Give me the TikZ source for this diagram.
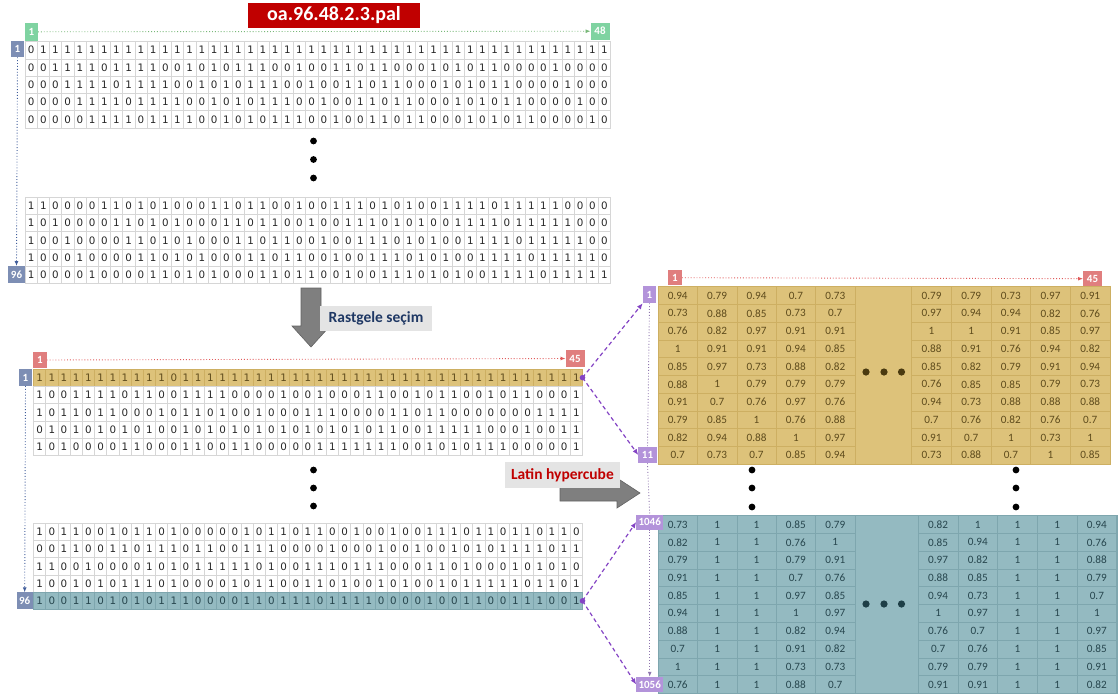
\documentclass[tikz,border=0pt]{standalone}
\usepackage{fontspec}
\setmainfont{Carlito}
\newfontfamily\digitfont{DejaVu Sans}
\usetikzlibrary{arrows.meta}

\definecolor{gridgray}{HTML}{D6D6D6}
\definecolor{goldfill}{HTML}{DDC27A}
\definecolor{goldline}{HTML}{CDAF62}
\definecolor{goldtext}{HTML}{5E4B1C}
\definecolor{golddot}{HTML}{4A3A10}
\definecolor{tealfill}{HTML}{94BAC1}
\definecolor{tealline}{HTML}{7EA6AE}
\definecolor{tealtext}{HTML}{27464E}
\definecolor{tealdot}{HTML}{1E3F47}
\definecolor{pinklab}{HTML}{E07E7E}
\definecolor{greenlab}{HTML}{7FD3A1}
\definecolor{bluelab}{HTML}{7D8EB4}
\definecolor{purplab}{HTML}{B393DA}
\definecolor{purpline}{HTML}{8444C4}
\definecolor{titlered}{HTML}{C00000}
\definecolor{arrowgray}{HTML}{7F7F7F}
\definecolor{arrowedge}{HTML}{626262}
\definecolor{navy}{HTML}{1F3864}
\definecolor{lightbox}{HTML}{E4E4E4}
\definecolor{bluedots}{HTML}{3F5C9A}
\definecolor{greendots}{HTML}{79B879}
\definecolor{reddots}{HTML}{E05A5A}

\tikzset{
  bincell/.style={draw=gridgray, line width=0.5pt, minimum width=12.2pt, minimum height=17.3pt,
    inner sep=0pt, outer sep=0pt, anchor=north west,
    font=\digitfont\fontsize{10.3}{10}\selectfont, text=black!85},
  goldrow/.style={bincell, fill=goldfill, draw=goldline, text=goldtext},
  tealrow/.style={bincell, fill=tealfill, draw=tealline, text=tealtext},
  goldcell/.style={draw=goldline, line width=0.5pt, inner sep=0pt, outer sep=0pt, anchor=north west,
    font=\fontsize{11.2}{11}\selectfont, text=goldtext},
  tealcell/.style={draw=tealline, line width=0.5pt, inner sep=0pt, outer sep=0pt, anchor=north west,
    font=\fontsize{11.2}{11}\selectfont, text=tealtext},
  lab/.style={inner sep=0pt, outer sep=0pt, font=\bfseries\fontsize{11}{11}\selectfont, text=white},
  greenbox/.style={lab, fill=greenlab},
  bluebox/.style={lab, fill=bluelab},
  pinkbox/.style={lab, fill=pinklab},
  purpbox/.style={lab, fill=purplab},
  greybox/.style={inner sep=0pt, outer sep=0pt, fill=lightbox, font=\bfseries\fontsize{15.5}{16}\selectfont},
  dotline/.style={dotted, line width=0.9pt},
  dasharrow/.style={purpline, dashed, dash pattern=on 4pt off 3pt, line width=1.2pt,
    -{Latex[length=6pt,width=5pt]}},
  blockarrow/.style={fill=arrowgray, draw=arrowedge, line width=0.6pt},
}

\newcommand{\binrow}[4]{%
  \foreach \dd [count=\ii from 0] in {#4}{%
    \node[#3] (#1-\ii) at ({#2+\ii*12.2},\rowy) {\dd};
  }%
}
\newcommand{\valtable}[7]{%
  \foreach \rr [count=\ri from 0] in {#7}{%
    \foreach \vv [count=\ci from 0] in \rr {%
      \node[#6, minimum width=#4pt, minimum height=#5pt] (#1-\ri-\ci) at ({#2+\ci*#4},{#3+\ri*#5}) {\vv};
    }%
  }%
}

\begin{document}
\begin{tikzpicture}[x=1pt,y=-1pt]
\useasboundingbox (0,0) rectangle (1120,697);

% ---------------- title ----------------
\node[fill=titlered, text=white, inner sep=0pt, minimum width=172pt, minimum height=25pt,
  font=\bfseries\fontsize{20}{20}\selectfont] (title) at (334,15.5) {oa.96.48.2.3.pal};

% ---------------- top matrix ----------------
\def\rowy{41.5}
\binrow{T1}{25}{bincell}{0,1,1,1,1,1,1,1,1,1,1,1,1,1,1,1,1,1,1,1,1,1,1,1,1,1,1,1,1,1,1,1,1,1,1,1,1,1,1,1,1,1,1,1,1,1,1,1}
\def\rowy{58.8}
\binrow{T2}{25}{bincell}{0,0,1,1,1,1,0,1,1,1,1,0,0,1,0,1,0,1,1,1,0,0,1,0,0,1,1,0,1,1,0,0,0,1,0,1,0,1,1,0,0,0,0,1,0,0,0,0}
\def\rowy{76.1}
\binrow{T3}{25}{bincell}{0,0,0,1,1,1,1,0,1,1,1,1,0,0,1,0,1,0,1,1,1,0,0,1,0,0,1,1,0,1,1,0,0,0,1,0,1,0,1,1,0,0,0,0,1,0,0,0}
\def\rowy{93.4}
\binrow{T4}{25}{bincell}{0,0,0,0,1,1,1,1,0,1,1,1,1,0,0,1,0,1,0,1,1,1,0,0,1,0,0,1,1,0,1,1,0,0,0,1,0,1,0,1,1,0,0,0,0,1,0,0}
\def\rowy{110.7}
\binrow{T5}{25}{bincell}{0,0,0,0,0,1,1,1,1,0,1,1,1,1,0,0,1,0,1,0,1,1,1,0,0,1,0,0,1,1,0,1,1,0,0,0,1,0,1,0,1,1,0,0,0,0,1,0}

\def\rowy{197}
\binrow{B1}{25}{bincell}{1,1,0,0,0,0,1,1,0,1,0,1,0,0,0,1,1,0,1,1,0,0,1,0,0,1,1,1,0,1,0,1,0,0,1,1,1,1,0,1,1,1,1,1,0,0,0,0}
\def\rowy{214.3}
\binrow{B2}{25}{bincell}{1,0,1,0,0,0,0,1,1,0,1,0,1,0,0,0,1,1,0,1,1,0,0,1,0,0,1,1,1,0,1,0,1,0,0,1,1,1,1,0,1,1,1,1,1,0,0,0}
\def\rowy{231.6}
\binrow{B3}{25}{bincell}{1,0,0,1,0,0,0,0,1,1,0,1,0,1,0,0,0,1,1,0,1,1,0,0,1,0,0,1,1,1,0,1,0,1,0,0,1,1,1,1,0,1,1,1,1,1,0,0}
\def\rowy{248.9}
\binrow{B4}{25}{bincell}{1,0,0,0,1,0,0,0,0,1,1,0,1,0,1,0,0,0,1,1,0,1,1,0,0,1,0,0,1,1,1,0,1,0,1,0,0,1,1,1,1,0,1,1,1,1,1,0}
\def\rowy{266.2}
\binrow{B5}{25}{bincell}{1,0,0,0,0,1,0,0,0,0,1,1,0,1,0,1,0,0,0,1,1,0,1,1,0,0,1,0,0,1,1,1,0,1,0,1,0,0,1,1,1,1,0,1,1,1,1,1}

% labels top matrix
\node[greenbox, minimum width=13pt, minimum height=17.5pt] (g1) at (31.5,31.8) {1};
\node[greenbox, minimum width=19pt, minimum height=17pt] (g48) at (600,31.2) {48};
\node[bluebox, minimum width=13.5pt, minimum height=16.5pt] (bt1) at (17.5,49) {1};
\node[bluebox, minimum width=17pt, minimum height=17pt] (bt96) at (16.5,274.5) {96};
\draw[dotline, greendots, -{Latex[length=5pt,width=4pt]}] (g1.east) -- (g48.west);
\draw[dotline, bluedots, -{Latex[length=5pt,width=4pt]}] (bt1.south) -- (bt96.north);

% vertical dots
\fill[black] (313.5,141) circle (3.4pt) (313.5,159.5) circle (3.4pt) (313.5,178) circle (3.4pt);

% ---------------- random selection arrow ----------------
\draw[blockarrow] (301,288) -- (321,288) -- (321,326) -- (330,326) -- (311,347) -- (292,326) -- (301,326) -- cycle;
\node[greybox, text=navy, minimum width=112pt, minimum height=25pt] (rast) at (376,318) {Rastgele seçim};

% ---------------- middle matrix ----------------
\def\rowy{369}
\binrow{M1}{33.5}{goldrow}{1,1,1,1,1,1,1,1,1,1,1,0,1,1,1,1,1,1,1,1,1,1,1,1,1,1,1,1,1,1,1,1,1,1,1,1,1,1,1,1,1,1,1,1,1}
\def\rowy{386.3}
\binrow{M2}{33.5}{bincell}{1,0,0,1,1,1,1,0,1,1,0,0,1,1,1,1,0,0,0,0,1,0,0,1,0,0,0,1,1,0,0,1,0,1,1,0,0,1,0,1,1,0,0,0,1}
\def\rowy{403.6}
\binrow{M3}{33.5}{bincell}{1,0,1,1,0,1,1,0,0,0,1,0,1,1,0,1,0,0,1,0,0,0,1,1,1,0,0,0,0,1,1,0,1,1,0,0,0,0,0,0,0,1,1,1,1}
\def\rowy{420.9}
\binrow{M4}{33.5}{bincell}{0,1,0,1,0,1,0,1,0,1,0,0,1,0,1,0,1,0,1,0,1,0,1,0,1,0,1,0,1,1,0,0,1,1,1,1,1,0,0,0,1,0,0,1,1}
\def\rowy{438.2}
\binrow{M5}{33.5}{bincell}{1,0,1,0,0,0,0,1,1,0,0,0,1,1,0,0,1,1,0,0,0,0,0,1,1,1,1,1,1,1,0,0,1,0,1,0,1,1,1,0,0,0,0,0,1}

\def\rowy{523}
\binrow{L1}{33.5}{bincell}{1,0,1,1,0,0,1,0,1,1,0,1,0,0,0,0,0,1,0,1,1,0,1,1,0,0,1,0,0,1,0,0,1,1,1,0,1,1,0,1,1,0,1,1,0}
\def\rowy{540.3}
\binrow{L2}{33.5}{bincell}{0,0,1,1,0,0,1,1,0,1,1,1,0,1,1,0,0,1,1,1,0,0,0,0,1,0,0,0,1,0,0,1,0,0,1,0,1,0,1,1,1,1,0,1,1}
\def\rowy{557.6}
\binrow{L3}{33.5}{bincell}{1,1,0,0,1,0,0,0,0,1,0,1,0,1,1,1,1,1,0,1,0,0,1,1,1,0,1,1,1,0,0,0,1,1,0,1,0,0,0,1,0,1,0,1,0}
\def\rowy{574.9}
\binrow{L4}{33.5}{bincell}{1,0,0,1,0,1,0,1,1,1,0,1,0,0,0,0,1,0,1,1,0,0,1,1,0,1,0,0,1,0,1,0,0,1,0,1,1,1,1,1,0,1,1,0,1}
\def\rowy{592.2}
\binrow{L5}{33.5}{tealrow}{1,0,0,1,1,0,1,0,1,0,1,1,1,0,0,0,0,1,1,0,1,1,1,0,1,1,1,1,0,0,0,0,1,0,0,1,1,0,0,1,1,1,0,0,1}

% labels middle matrix
\node[pinkbox, minimum width=13.5pt, minimum height=16pt] (pm1) at (40,360) {1};
\node[pinkbox, minimum width=19pt, minimum height=17pt] (pm45) at (575,358.5) {45};
\node[bluebox, minimum width=13.5pt, minimum height=17pt] (bm1) at (25.5,377.5) {1};
\node[bluebox, minimum width=16pt, minimum height=17pt] (bm96) at (24.7,600.8) {96};
\draw[dotline, reddots, -{Latex[length=5pt,width=4pt]}] (pm1.east) -- (pm45.west);
\draw[dotline, bluedots, -{Latex[length=5pt,width=4pt]}] (bm1.south) -- (bm96.north);

\fill[black] (313.5,470) circle (3.4pt) (313.5,488) circle (3.4pt) (313.5,506) circle (3.4pt);

% ---------------- Latin hypercube arrow ----------------
\draw[blockarrow] (560,485) -- (617,485) -- (617,478) -- (640,493) -- (617,508) -- (617,501) -- (560,501) -- cycle;
\node[greybox, text=titlered, minimum width=115pt, minimum height=26pt] (lhc) at (562.5,475) {Latin hypercube};

% ---------------- gold table ----------------
\fill[goldfill] (658,286.7) rectangle (1110,464);
\valtable{GL}{658}{286.7}{39.4}{17.73}{goldcell}{%
{0.94,0.79,0.94,0.7,0.73},{0.73,0.88,0.85,0.73,0.7},{0.76,0.82,0.97,0.91,0.91},{1,0.91,0.91,0.94,0.85},
{0.85,0.97,0.73,0.88,0.82},{0.88,1,0.79,0.79,0.79},{0.91,0.7,0.76,0.97,0.76},{0.79,0.85,1,0.76,0.88},
{0.82,0.94,0.88,1,0.97},{0.7,0.73,0.7,0.85,0.94}}
\valtable{GR}{911.7}{286.7}{39.66}{17.73}{goldcell}{%
{0.79,0.79,0.73,0.97,0.91},{0.97,0.94,0.94,0.82,0.76},{1,1,0.91,0.85,0.97},{0.88,0.91,0.76,0.94,0.82},
{0.85,0.82,0.79,0.91,0.94},{0.76,0.85,0.85,0.79,0.73},{0.94,0.73,0.88,0.88,0.88},{0.7,0.76,0.82,0.76,0.7},
{0.91,0.7,1,0.73,1},{0.73,0.88,0.7,1,0.85}}
\draw[goldline, line width=0.5pt] (658,286.7) rectangle (1110,464);
\fill[golddot] (866,372) circle (3.6pt) (884,372) circle (3.6pt) (901.5,372) circle (3.6pt);

% ---------------- teal table ----------------
\fill[tealfill] (658,515.7) rectangle (1117,693.3);
\valtable{TL}{658}{515.7}{39.4}{17.76}{tealcell}{%
{0.73,1,1,0.85,0.79},{0.82,1,1,0.76,1},{0.79,1,1,0.79,0.91},{0.91,1,1,0.7,0.76},
{0.85,1,1,0.97,0.85},{0.94,1,1,1,0.97},{0.88,1,1,0.82,0.94},{0.7,1,1,0.91,0.82},
{1,1,1,0.73,0.73},{0.76,1,1,0.88,0.7}}
\valtable{TR}{918.3}{515.7}{39.68}{17.76}{tealcell}{%
{0.82,1,1,1,0.94},{0.85,0.94,1,1,0.76},{0.97,0.82,1,1,0.88},{0.88,0.85,1,1,0.79},
{0.94,0.73,1,1,0.7},{1,0.97,1,1,1},{0.76,0.7,1,1,0.97},{0.7,0.76,1,1,0.85},
{0.79,0.79,1,1,0.91},{0.91,0.91,1,1,0.82}}
\draw[tealline, line width=0.5pt] (658,515.7) rectangle (1117,693.3);
\fill[tealdot] (866,604) circle (3.6pt) (884,604) circle (3.6pt) (901.5,604) circle (3.6pt);

% vertical dots between tables
\fill[black] (752,470) circle (3.4pt) (752,488) circle (3.4pt) (752,507) circle (3.4pt);
\fill[black] (1016,470) circle (3.4pt) (1016,488) circle (3.4pt) (1016,507) circle (3.4pt);

% labels right
\node[pinkbox, minimum width=14pt, minimum height=15.5pt] (pr1) at (675,277.7) {1};
\node[pinkbox, minimum width=19pt, minimum height=14.5pt] (pr45) at (1092.5,278.7) {45};
\draw[dotline, reddots, -{Latex[length=5pt,width=4pt]}] (pr1.east) -- (pr45.west);
\node[purpbox, minimum width=13.5pt, minimum height=17.5pt] (q1) at (649.5,294.5) {1};
\node[purpbox, minimum width=18.5pt, minimum height=16.5pt] (q11) at (647.5,455) {11};
\node[purpbox, minimum width=27pt, minimum height=15pt] (q1046) at (649.7,522) {1046};
\node[purpbox, minimum width=27pt, minimum height=15.5pt] (q1056) at (649.7,684.5) {1056};
\draw[dotline, purplab!80!black] (q1.south) -- (q11.north);
\draw[dotline, purplab!80!black] (q11.south) -- (q1046.north);
\draw[dotline, purplab!80!black, -{Latex[length=5pt,width=4pt]}] (q1046.south) -- (q1056.north);

% dashed selection arrows
\coordinate (gend) at (M1-44.east);
\coordinate (tend) at (L5-44.east);
\fill[purpline] (gend) circle (2.8pt);
\fill[purpline] (tend) circle (2.8pt);
\draw[dasharrow] (gend) -- (q1.south west);
\draw[dasharrow] (gend) -- (q11.west);
\draw[dasharrow] (tend) -- (q1046.west);
\draw[dasharrow] (tend) -- (q1056.west);
\end{tikzpicture}
\end{document}
